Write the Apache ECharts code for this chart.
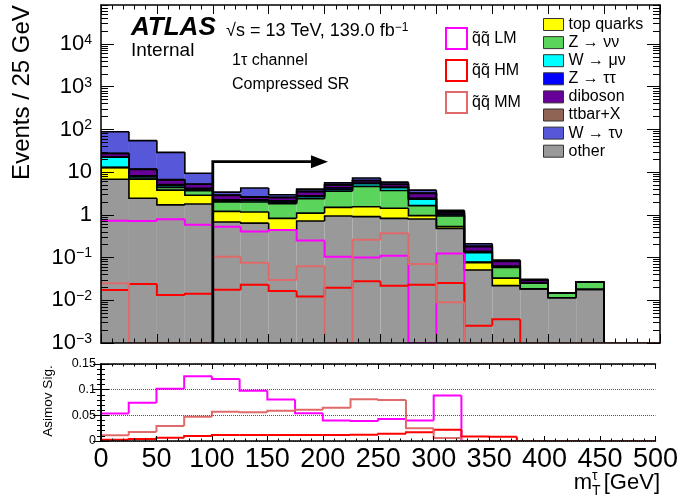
<!DOCTYPE html>
<html>
<head>
<meta charset="utf-8">
<script src="https://cdn.jsdelivr.net/npm/echarts@6/dist/echarts.min.js"></script>
<style>
  html, body { margin: 0; padding: 0; background: #ffffff; }
  #chart { width: 681px; height: 501px; }
</style>
</head>
<body>
<div id="chart"></div>
<script>
// m_T^tau distribution, 25 GeV bins from 0 to 500 GeV
const binEdges = [0, 25, 50, 75, 100, 125, 150, 175, 200, 225, 250, 275, 300, 325, 350, 375, 400, 425, 450, 475, 500];

// Background yields per bin (stacked bottom to top in this order)
const other     = [6.8, 2.45, 1.71, 1.8, 0.68, 0.64, 0.44, 0.72, 0.94, 0.91, 0.83, 0.80, 0.48, 0.051, 0.022, 0.0185, 0.0115, 0.018, 0, 0];
const topQuarks = [6.0, 4.35, 2.09, 1.08, 0.53, 0.53, 0.39, 0.38, 0.56, 0.64, 0.60, 0.16, 0.05, 0.025, 0.011, 0, 0, 0, 0, 0];
const zNuNu     = [0.15, 0.5, 0.6, 0.82, 0.8, 0.83, 1.0, 1.3, 2.1, 3.1, 2.3, 0.69, 0.41, 0.003, 0.026, 0.0065, 0.0031, 0.009, 0, 0];
const wMuNu     = [9.4, 0.6, 0.4, 0.3, 0.15, 0.15, 0.15, 0.25, 0.35, 0.7, 0.6, 0.69, 0.05, 0.051, 0.002, 0, 0, 0, 0, 0];
const zTauTau   = [0.3, 0.3, 0.3, 0.2, 0.1, 0.1, 0.15, 0.15, 0.35, 0.2, 0.15, 0.15, 0.05, 0.01, 0.002, 0, 0, 0, 0, 0];
const diboson   = [4.6, 3.4, 1.5, 1.0, 0.6, 0.35, 0.4, 0.7, 0.7, 0.8, 0.7, 0.7, 0.12, 0.04, 0.018, 0.004, 0, 0, 0, 0];
const ttbarX    = [0.3, 0.2, 0.1, 0.1, 0.05, 0.05, 0.05, 0.05, 0.05, 0.05, 0.05, 0.05, 0.02, 0.005, 0.002, 0.001, 0, 0, 0, 0];
const wTauNu    = [61, 43, 22.4, 4.1, 0.5, 1.6, 0.37, 0.45, 0.55, 0.9, 0.6, 0.55, 0.1, 0.025, 0.004, 0.001, 0, 0, 0, 0];

// Signal yields per bin
const sigLM = [0.73, 0.72, 0.79, 0.59, 0.53, 0.41, 0.44, 0.25, 0.105, 0.101, 0.11, 0, 0.125, 0, 0, 0, 0, 0, 0, 0];
const sigHM = [0.0174, 0.024, 0.0133, 0.0143, 0.0177, 0.023, 0.0166, 0.0122, 0.0197, 0.0279, 0.0219, 0.023, 0.0254, 0.00254, 0.0036, 0, 0, 0, 0, 0];
const sigMM = [0.025, 0, 0, 0, 0.105, 0.076, 0.030, 0.063, 0, 0.26, 0.37, 0.071, 0.009, 0, 0, 0, 0, 0, 0, 0];

// Asimov significance per bin
const asimovLM = [0.0535, 0.0743, 0.102, 0.126, 0.1206, 0.0978, 0.0808, 0.054, 0.040, 0.039, 0.043, 0.040, 0.0887, 0, 0, 0, 0, 0, 0, 0];
const asimovMM = [0.011, 0.0176, 0.029, 0.047, 0.057, 0.056, 0.0587, 0.061, 0.065, 0.0815, 0.080, 0.025, 0.006, 0, 0, 0, 0, 0, 0, 0];
const asimovHM = [0.0026, 0.004, 0.0065, 0.0098, 0.0117, 0.0117, 0.0117, 0.0117, 0.0117, 0.0124, 0.0143, 0.017, 0.022, 0.009, 0.0085, 0, 0, 0, 0, 0];

// Axis tick values
const yMajorTicks = [1e-3, 1e-2, 1e-1, 1, 10, 100, 1000, 10000];
const xTickStep = 50;

// Signal-region cut and arrow
const cutValue = 100;
const arrowLevel = 17.6;
const arrowEnd = 203;

const Y_MIN = 1e-3;
const Y_MAX = 8.2e4;
const FONT = '"Liberation Sans", Arial, Helvetica, sans-serif';

const backgrounds = [
  { name: 'other',        values: other,     color: '#999999' },
  { name: 'top quarks',   values: topQuarks, color: '#ffff00' },
  { name: 'Z \u2192 \u03bd\u03bd', values: zNuNu,   color: '#5bd45b' },
  { name: 'W \u2192 \u03bc\u03bd', values: wMuNu,   color: '#00ffff' },
  { name: 'Z \u2192 \u03c4\u03c4', values: zTauTau, color: '#0000ff' },
  { name: 'diboson',      values: diboson,   color: '#660099' },
  { name: 'ttbar+X',      values: ttbarX,    color: '#8f6454' },
  { name: 'W \u2192 \u03c4\u03bd', values: wTauNu,  color: '#5757da' }
];
const legendOrder = ['top quarks', 'Z \u2192 \u03bd\u03bd', 'W \u2192 \u03bc\u03bd', 'Z \u2192 \u03c4\u03c4',
                     'diboson', 'ttbar+X', 'W \u2192 \u03c4\u03bd', 'other'];

const signals = [
  { name: 'q\u0303q\u0303 LM', values: sigLM, ratio: asimovLM, color: '#ff00ff' },
  { name: 'q\u0303q\u0303 HM', values: sigHM, ratio: asimovHM, color: '#ff0000' },
  { name: 'q\u0303q\u0303 MM', values: sigMM, ratio: asimovMM, color: '#e06a6a' }
];

const nBins = binEdges.length - 1;

// cumulative stack levels
const cumLevels = [];
backgrounds.forEach((b, k) => {
  cumLevels.push(b.values.map((v, i) => v + (k > 0 ? cumLevels[k - 1][i] : 0)));
});

// minor log ticks 2..9 per decade
const yMinorTicks = [];
for (let e = -3; e <= 4; e++) {
  for (let m = 2; m <= 9; m++) {
    const v = m * Math.pow(10, e);
    if (v < Y_MAX) yMinorTicks.push(+v.toPrecision(3));
  }
}

function clampLog(v) { return Math.max(v, Y_MIN); }

// filled rectangle of one stack component in one bin
function fillItem(params, api) {
  const x0 = api.value(0), x1 = api.value(1), lo = api.value(2), hi = api.value(3);
  if (!(hi > lo) || hi <= Y_MIN) return null;
  const p0 = api.coord([x0, clampLog(hi)]);
  const p1 = api.coord([x1, clampLog(lo)]);
  return {
    type: 'rect',
    shape: { x: p0[0], y: p0[1], width: p1[0] - p0[0], height: p1[1] - p0[1] },
    style: { fill: api.visual('color') }
  };
}

// histogram step outline for one bin: vertical from previous bin, then horizontal
function makeStepItem(clampFn, lineWidth, strokeColor) {
  return function (params, api) {
    const x0 = api.value(0), x1 = api.value(1);
    const prev = clampFn(api.value(2)), cur = clampFn(api.value(3));
    const last = api.value(4) === 1;
    const pts = [api.coord([x0, prev]), api.coord([x0, cur]), api.coord([x1, cur])];
    if (last) pts.push(api.coord([x1, clampFn(0)]));
    return {
      type: 'polyline',
      shape: { points: pts },
      style: { stroke: strokeColor || api.visual('color'), lineWidth: lineWidth, fill: null }
    };
  };
}

function stepData(values) {
  return values.map((v, i) => [binEdges[i], binEdges[i + 1], i > 0 ? values[i - 1] : 0, v, i === nBins - 1 ? 1 : 0]);
}

const series = [];

// stacked fills
backgrounds.forEach((b, k) => {
  series.push({
    type: 'custom',
    name: b.name,
    xAxisIndex: 0, yAxisIndex: 0,
    itemStyle: { color: b.color },
    renderItem: fillItem,
    clip: true,
    z: 2,
    encode: { x: [0, 1], y: 3 },
    data: b.values.map((v, i) => [binEdges[i], binEdges[i + 1], k > 0 ? cumLevels[k - 1][i] : 0, cumLevels[k][i]])
  });
});

// stack outlines
cumLevels.forEach((lvl, k) => {
  series.push({
    type: 'custom',
    name: 'outline ' + k,
    xAxisIndex: 0, yAxisIndex: 0,
    renderItem: makeStepItem(clampLog, 1.6, '#000000'),
    clip: true,
    z: 3,
    encode: { x: [0, 1], y: 3 },
    data: stepData(lvl)
  });
});

// signal lines, main panel and significance panel
signals.forEach(s => {
  series.push({
    type: 'custom',
    name: s.name,
    xAxisIndex: 0, yAxisIndex: 0,
    itemStyle: { color: s.color },
    renderItem: makeStepItem(clampLog, 2),
    clip: true,
    z: 4,
    encode: { x: [0, 1], y: 3 },
    data: stepData(s.values)
  });
  series.push({
    type: 'custom',
    name: s.name,
    xAxisIndex: 2, yAxisIndex: 4,
    itemStyle: { color: s.color },
    renderItem: makeStepItem(v => v, 2),
    clip: true,
    z: 4,
    encode: { x: [0, 1], y: 3 },
    data: stepData(s.ratio)
  });
});

// cut arrow
series.push({
  type: 'custom',
  name: 'cut',
  xAxisIndex: 0, yAxisIndex: 0,
  clip: true,
  z: 5,
  encode: { x: 0, y: 1 },
  data: [[cutValue, arrowLevel, arrowEnd]],
  renderItem: function (params, api) {
    const base = api.coord([api.value(0), Y_MIN]);
    const corner = api.coord([api.value(0), api.value(1)]);
    const tip = api.coord([api.value(2), api.value(1)]);
    const headLen = 17, headHalf = 6.5;
    return {
      type: 'group',
      children: [
        { type: 'polyline', shape: { points: [base, corner, [tip[0] - headLen, tip[1]]] },
          style: { stroke: '#000', lineWidth: 2.8, fill: null } },
        { type: 'polygon', shape: { points: [[tip[0], tip[1]], [tip[0] - headLen, tip[1] - headHalf], [tip[0] - headLen, tip[1] + headHalf]] },
          style: { fill: '#000' } }
      ]
    };
  }
});

function logLabel(v) {
  const e = Math.round(Math.log10(v));
  if (e === 0) return '{p|1}';
  if (e === 1) return '{p|10}';
  return '{b|10}{s|' + (e < 0 ? '\u2212' + (-e) : e) + '}';
}

const axisLineStyle = { color: '#000', width: 1.5 };

function xAxisDef(grid, pos, majorLen, minorLen, labels) {
  return {
    type: 'value', gridIndex: grid, position: pos, min: 0, max: 500, interval: xTickStep, z: 10,
    axisLine: { show: true, onZero: false, lineStyle: axisLineStyle },
    axisTick: { show: true, inside: true, length: majorLen, lineStyle: { color: '#000', width: 1 } },
    minorTick: { show: true, splitNumber: 5, length: minorLen, lineStyle: { color: '#000', width: 1 } },
    splitLine: { show: false },
    axisLabel: labels ? { show: true, fontSize: 27, fontFamily: FONT, color: '#000', margin: 5,
                          showMinLabel: true, showMaxLabel: true, hideOverlap: false }
                      : { show: false }
  };
}

function logAxisDef(pos, values, len, withLine, withLabels) {
  return {
    type: 'log', gridIndex: 0, position: pos, min: Y_MIN, max: Y_MAX, logBase: 10, z: 10,
    axisLine: { show: withLine, lineStyle: axisLineStyle },
    axisTick: { show: true, inside: true, length: len, customValues: values, lineStyle: { color: '#000', width: 1 } },
    minorTick: { show: false },
    splitLine: { show: false },
    axisLabel: withLabels ? {
      show: true, customValues: yMajorTicks, formatter: logLabel, margin: 9, color: '#000',
      fontFamily: FONT, hideOverlap: false,
      rich: {
        p: { fontSize: 22, fontFamily: FONT, color: '#000', lineHeight: 22 },
        b: { fontSize: 22, fontFamily: FONT, color: '#000', lineHeight: 22, padding: [8, 0, 0, 0], verticalAlign: 'bottom' },
        s: { fontSize: 14, fontFamily: FONT, color: '#000', lineHeight: 14, verticalAlign: 'top' }
      }
    } : { show: false }
  };
}

function ratioAxisDef(pos, labels) {
  return {
    type: 'value', gridIndex: 1, position: pos, min: 0, max: 0.15, interval: 0.05, z: 10,
    axisLine: { show: true, lineStyle: axisLineStyle },
    axisTick: { show: true, inside: true, length: 8, lineStyle: { color: '#000', width: 1 } },
    minorTick: { show: true, splitNumber: 5, length: 4, lineStyle: { color: '#000', width: 1 } },
    splitLine: { show: labels, lineStyle: { type: 'dotted', color: '#555', width: 1 } },
    axisLabel: labels ? { show: true, fontSize: 12.5, fontFamily: FONT, color: '#000', margin: 5,
                          showMinLabel: true, showMaxLabel: true }
                      : { show: false }
  };
}

const textBase = { fontFamily: FONT, fill: '#000' };

const option = {
  animation: false,
  backgroundColor: '#ffffff',
  grid: [
    { left: 101, top: 5, width: 559, height: 338 },
    { left: 101, top: 364, width: 559, height: 77 }
  ],
  xAxis: [
    xAxisDef(0, 'bottom', 9, 4.5, false),
    xAxisDef(0, 'top', 9, 4.5, false),
    xAxisDef(1, 'bottom', 5, 2.5, true),
    xAxisDef(1, 'top', 5, 2.5, false)
  ],
  yAxis: [
    logAxisDef('left', yMajorTicks, 13, true, true),
    logAxisDef('left', yMinorTicks, 7, false, false),
    logAxisDef('right', yMajorTicks, 13, true, false),
    logAxisDef('right', yMinorTicks, 7, false, false),
    ratioAxisDef('left', true),
    ratioAxisDef('right', false)
  ],
  legend: [
    {
      orient: 'vertical', left: 445, top: 27, padding: 0, itemWidth: 21, itemHeight: 21, itemGap: 9,
      selectedMode: false,
      textStyle: { fontSize: 16, fontFamily: FONT, color: '#000' },
      data: signals.map(s => ({ name: s.name, icon: 'rect',
        itemStyle: { color: 'rgba(255,255,255,0)', borderColor: s.color, borderWidth: 2 } }))
    },
    {
      orient: 'vertical', left: 543, top: 16.5, padding: 0, itemWidth: 20, itemHeight: 12, itemGap: 2.1,
      selectedMode: false,
      textStyle: { fontSize: 16, fontFamily: FONT, color: '#000', lineHeight: 16 },
      data: legendOrder.map(n => {
        const b = backgrounds.find(x => x.name === n);
        return { name: n, icon: 'rect', itemStyle: { color: b.color, borderColor: '#333', borderWidth: 1 } };
      })
    }
  ],
  graphic: [
    { type: 'text', x: 131, y: 27.5, style: Object.assign({ text: 'ATLAS', fontSize: 26, fontWeight: 'bold', fontStyle: 'italic', verticalAlign: 'middle' }, textBase) },
    { type: 'text', x: 131, y: 51, style: Object.assign({ text: 'Internal', fontSize: 19, verticalAlign: 'middle' }, textBase) },
    { type: 'text', x: 226, y: 31, style: Object.assign({
        text: '\u221as = 13 TeV, 139.0 fb{s|\u22121}', fontSize: 18, verticalAlign: 'middle',
        rich: { s: { fontSize: 12, fontFamily: FONT, fill: '#000', verticalAlign: 'top', lineHeight: 12 } }
      }, textBase) },
    { type: 'text', x: 232, y: 61, style: Object.assign({ text: '1\u03c4 channel', fontSize: 16, verticalAlign: 'middle' }, textBase) },
    { type: 'text', x: 232, y: 85, style: Object.assign({ text: 'Compressed SR', fontSize: 16, verticalAlign: 'middle' }, textBase) },
    { type: 'text', x: 22, y: 92.5, rotation: Math.PI / 2,
      style: Object.assign({ text: 'Events / 25 GeV', fontSize: 24, align: 'center', verticalAlign: 'middle' }, textBase) },
    { type: 'text', x: 48, y: 401, rotation: Math.PI / 2,
      style: Object.assign({ text: 'Asimov Sig.', fontSize: 13.5, align: 'center', verticalAlign: 'middle' }, textBase) },
    { type: 'text', x: 660, y: 483, style: Object.assign({ text: '[GeV]', fontSize: 22, align: 'right', verticalAlign: 'middle' }, textBase) },
    { type: 'text', x: 592, y: 476, style: Object.assign({ text: '\u03c4', fontSize: 14, align: 'left', verticalAlign: 'middle' }, textBase) },
    { type: 'text', x: 592, y: 491, style: Object.assign({ text: 'T', fontSize: 14, align: 'left', verticalAlign: 'middle' }, textBase) },
    { type: 'text', x: 592, y: 483, style: Object.assign({ text: 'm', fontSize: 22, align: 'right', verticalAlign: 'middle' }, textBase) }
  ],
  series: series
};

const chart = echarts.init(document.getElementById('chart'), null, { renderer: 'canvas' });
chart.setOption(option);
</script>
</body>
</html>
